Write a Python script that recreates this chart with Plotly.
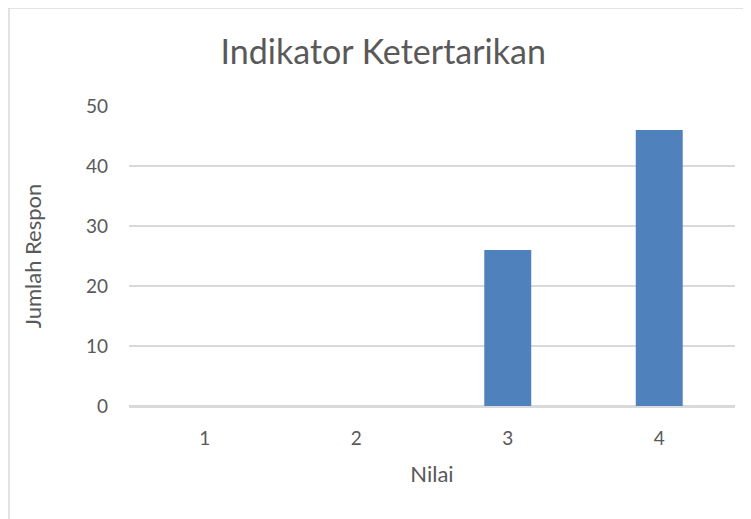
import plotly.graph_objects as go

# data
nilai = ["1", "2", "3", "4"]
jumlah_respon = [0, 0, 26, 46]
y_ticks = [0, 10, 20, 30, 40, 50]

FONT = "Lato, 'Open Sans', sans-serif"
GREY_TEXT = "#595959"
GRID = "#d9d9d9"

fig = go.Figure()
fig.add_trace(go.Bar(
    x=nilai, y=jumlah_respon,
    marker=dict(color="#4f81bd", line=dict(width=0)),
    width=0.31,
))

# chart border: only top and left edges are visible in the cropped reference
fig.add_shape(type="line", xref="paper", yref="paper",
              x0=-0.198, x1=1.3, y0=1.327, y1=1.327,
              line=dict(color=GRID, width=1.5), layer="below")
fig.add_shape(type="line", xref="paper", yref="paper",
              x0=-0.198, x1=-0.198, y0=1.327, y1=-0.6,
              line=dict(color=GRID, width=1.5), layer="below")

# page body adds 8px offset, so the figure is 8px smaller and margins shifted
fig.update_layout(
    width=743, height=511,
    margin=dict(l=121, r=16, t=98, b=113),
    paper_bgcolor="white", plot_bgcolor="white",
    font=dict(family=FONT, color=GREY_TEXT, size=19),
    title=dict(text="Indikator Ketertarikan", x=0.505, xanchor="center",
               y=1 - 44 / 511, yref="container", yanchor="middle",
               font=dict(size=34, color=GREY_TEXT, family=FONT)),
    showlegend=False,
    xaxis=dict(
        type="category", showgrid=False, zeroline=False,
        showline=True, linecolor=GRID, linewidth=1.5,
        ticks="", ticklabelstandoff=14,
        title=dict(text="Nilai", standoff=19, font=dict(size=22)),
    ),
    yaxis=dict(
        range=[0, 50], tickvals=y_ticks, showgrid=True, gridcolor=GRID, gridwidth=1.5,
        zeroline=True, zerolinecolor=GRID, zerolinewidth=1.5,
        ticks="", ticklabelstandoff=20,
        title=dict(text="Jumlah Respon", standoff=38, font=dict(size=22)),
    ),
)

fig.write_html("out.html")
